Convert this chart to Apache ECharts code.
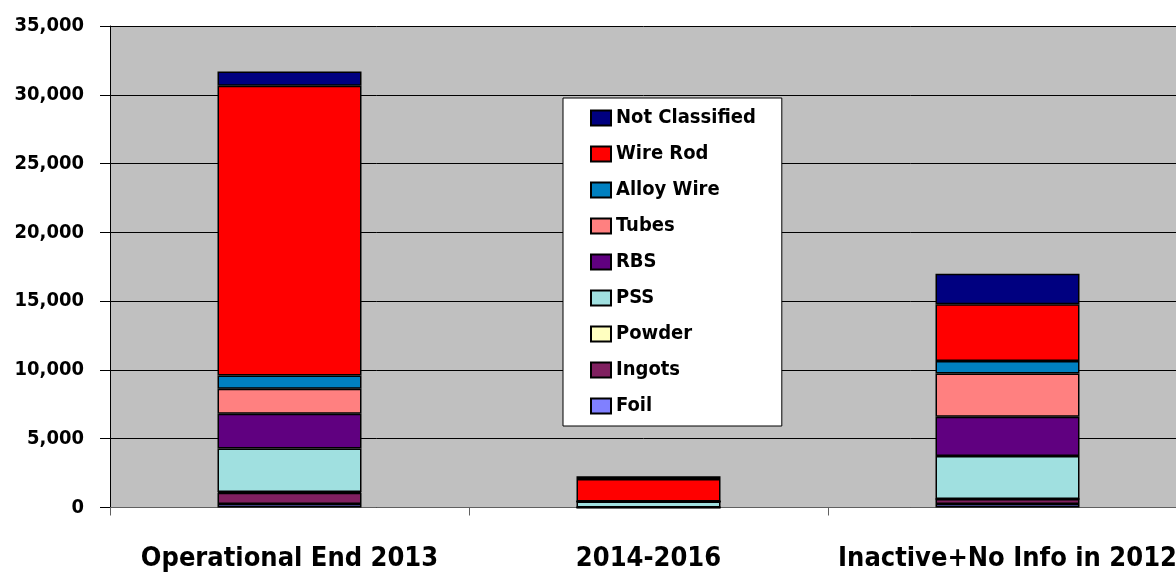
<!DOCTYPE html>
<html>
<head>
<meta charset="utf-8">
<script src="https://cdn.jsdelivr.net/npm/echarts@6/dist/echarts.min.js"></script>
<style>
  html, body { margin: 0; padding: 0; background: #fff; }
  #chart { width: 1176px; height: 572px; }
</style>
</head>
<body>
<div id="chart"></div>
<script>
// categories and values
const categories = ['Operational End 2013', '2014-2016', 'Inactive+No Info in 2012'];

const foil = [250, 0, 250];
const ingots = [830, 0, 365];
const powder = [50, 0, 0];
const pss = [3150, 430, 3120];
const rbs = [2540, 0, 2855];
const tubes = [1815, 0, 3150];
const alloyWire = [965, 0, 915];
const wireRod = [21050, 1650, 4115];
const notClassified = [1040, 200, 2230];

const FONT = '"DejaVu Sans Condensed", "Liberation Sans Narrow", sans-serif';

// bottom of stack first
const seriesList = [
  {name: 'Foil', data: foil, color: '#8080FF'},
  {name: 'Ingots', data: ingots, color: '#802060'},
  {name: 'Powder', data: powder, color: '#FFFFC0'},
  {name: 'PSS', data: pss, color: '#A0E0E0'},
  {name: 'RBS', data: rbs, color: '#600080'},
  {name: 'Tubes', data: tubes, color: '#FF8080'},
  {name: 'Alloy Wire', data: alloyWire, color: '#0080C0'},
  {name: 'Wire Rod', data: wireRod, color: '#FF0000'},
  {name: 'Not Classified', data: notClassified, color: '#000080'},
];

const chart = echarts.init(document.getElementById('chart'), null, {renderer: 'canvas'});

chart.setOption({
  animation: false,
  backgroundColor: '#fff',
  grid: {
    left: 110,
    top: 26,
    width: 1077,
    bottom: 64.5,
    outerBoundsMode: 'none',
    containLabel: false,
    show: true,
    backgroundColor: '#C0C0C0',
    borderWidth: 0,
  },
  legend: {
    orient: 'vertical',
    left: 563,
    top: 98,
    data: seriesList.map(s => s.name).reverse(),
    backgroundColor: '#fff',
    borderColor: '#000',
    borderWidth: 1,
    padding: [10, 26, 10, 27],
    itemGap: 16,
    itemWidth: 20,
    itemHeight: 15,
    icon: 'rect',
    textStyle: {fontFamily: FONT, fontWeight: 'bold', fontSize: 20, color: '#000'},
  },
  xAxis: {
    type: 'category',
    data: categories,
    axisLine: {lineStyle: {color: '#606060', width: 1}},
    axisTick: {show: true, length: 8, lineStyle: {color: '#606060'}},
    axisLabel: {
      interval: 0,
      margin: 38,
      fontFamily: FONT,
      fontWeight: 'bold',
      fontSize: 27,
      color: '#000',
    },
  },
  yAxis: {
    type: 'value',
    min: 0,
    max: 35000,
    interval: 5000,
    axisLine: {show: true, lineStyle: {color: '#000', width: 1}},
    axisTick: {show: true, length: 10, lineStyle: {color: '#000'}},
    splitLine: {show: true, lineStyle: {color: '#000', width: 1}},
    axisLabel: {
      margin: 26,
      fontFamily: FONT,
      fontWeight: 'bold',
      fontSize: 20,
      color: '#000',
      formatter: v => v.toLocaleString('en-US'),
    },
  },
  series: seriesList.map(s => ({
    name: s.name,
    type: 'bar',
    stack: 'total',
    data: s.data,
    barWidth: 144,
    itemStyle: {color: s.color, borderColor: '#000', borderWidth: 1.5},
  })),
});
</script>
</body>
</html>
